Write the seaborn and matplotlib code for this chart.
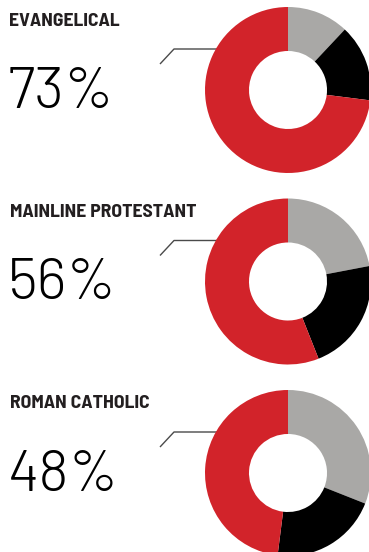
import matplotlib
matplotlib.use("Agg")
import matplotlib.pyplot as plt
import seaborn as sns
from matplotlib import font_manager

groups = ["EVANGELICAL", "MAINLINE PROTESTANT", "ROMAN CATHOLIC"]
gray_vals = [12, 22, 31]
black_vals = [15, 22, 21]
red_vals = [73, 56, 48]
labels = ["73%", "56%", "48%"]

sns.set_theme(style="white")
colors = ["#a9a8a6", "#000000", "#d2232a"]

names = {f.name for f in font_manager.fontManager.ttflist}
title_font = "Barlow Semi Condensed" if "Barlow Semi Condensed" in names else "DejaVu Sans"
big_font = "Barlow" if "Barlow" in names else "DejaVu Sans"

W, H = 369, 552
fig = plt.figure(figsize=(W / 100, H / 100), dpi=100)
fig.patch.set_facecolor("white")

ov = fig.add_axes([0, 0, 1, 1])
ov.set_xlim(0, W)
ov.set_ylim(H, 0)
ov.axis("off")

centers_y = [90, 281.5, 473]
cx, R = 288, 83
title_base = [26, 217, 408]
pct_base = [108, 299, 491]

for i, g in enumerate(groups):
    cy = centers_y[i]
    ax = fig.add_axes([(cx - R) / W, 1 - (cy + R) / H, 2 * R / W, 2 * R / H])
    vals = [gray_vals[i], black_vals[i], red_vals[i]]
    ax.pie(vals, colors=colors, startangle=90, counterclock=False, radius=1,
           wedgeprops=dict(width=0.53, linewidth=0))
    ax.set_xlim(-1, 1)
    ax.set_ylim(-1, 1)
    ax.set_aspect("equal")
    ax.axis("off")

    ov.text(9.5, title_base[i], g, family=title_font, fontweight="bold",
            fontsize=14.2, color="#231f20", va="baseline", ha="left")
    ov.text(8, pct_base[i], labels[i], family=big_font, fontweight=300,
            fontsize=42, color="#000000", va="baseline", ha="left")
    ly = cy - 41
    ov.plot([160, 174, 218], [ly + 15, ly, ly], color="#4a4a4a", lw=1,
            solid_capstyle="butt")

fig.savefig("out.png", dpi=100, facecolor="white")
